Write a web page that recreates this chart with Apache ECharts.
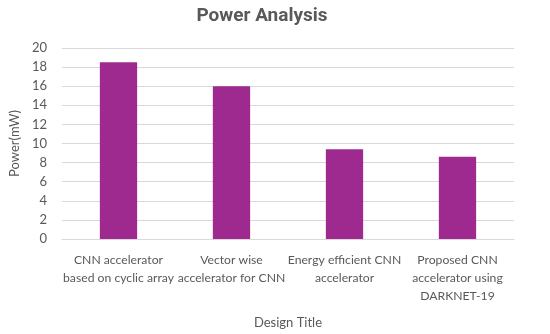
<!DOCTYPE html>
<html><head><meta charset="utf-8">
<script src="https://cdn.jsdelivr.net/npm/echarts@6/dist/echarts.min.js"></script>
<style>html,body{margin:0;padding:0;background:#fff}#c{width:550px;height:334px}</style>
</head><body><div id="c"></div>
<script>
const categories = ["CNN accelerator\nbased on cyclic array", "Vector wise\naccelerator for CNN", "Energy efficient CNN\naccelerator", "Proposed CNN\naccelerator using\nDARKNET-19"];
const powerValues = [18.5, 16.0, 9.4, 8.6];
const chartTitle = "Power Analysis";
const xTitle = "Design Title";
const yTitle = "Power(mW)";

const chart = echarts.init(document.getElementById('c'), null, {renderer: 'canvas'});
chart.setOption({
  animation: false,
  backgroundColor: '#fff',
  title: {text: chartTitle, left: 257, textAlign: 'center', top: 2,
    textStyle: {fontFamily: 'Roboto', fontSize: 19, fontWeight: 'bold', color: '#595959'}},
  grid: {left: 51, right: 36, top: 48, bottom: 95, containLabel: false},
  xAxis: {type: 'category', data: categories,
    name: xTitle, nameLocation: 'middle', nameGap: 77,
    nameTextStyle: {fontFamily: 'Lato', fontSize: 13, color: '#595959'},
    axisLine: {lineStyle: {color: '#d9d9d9'}}, axisTick: {show: false},
    axisLabel: {interval: 0, fontFamily: 'Lato', fontSize: 12.2, color: '#595959', lineHeight: 18, margin: 12}},
  yAxis: {type: 'value', min: 0, max: 20, interval: 2,
    name: yTitle, nameLocation: 'middle', nameGap: 34,
    nameTextStyle: {fontFamily: 'Lato', fontSize: 13, color: '#595959'},
    axisLine: {show: false}, axisTick: {show: false},
    axisLabel: {fontFamily: 'Lato', fontSize: 13, color: '#595959', margin: 15},
    splitLine: {lineStyle: {color: '#d9d9d9'}}},
  series: [{type: 'bar', data: powerValues, barWidth: '33%', itemStyle: {color: '#9e2a90'}}]
});
</script></body></html>
